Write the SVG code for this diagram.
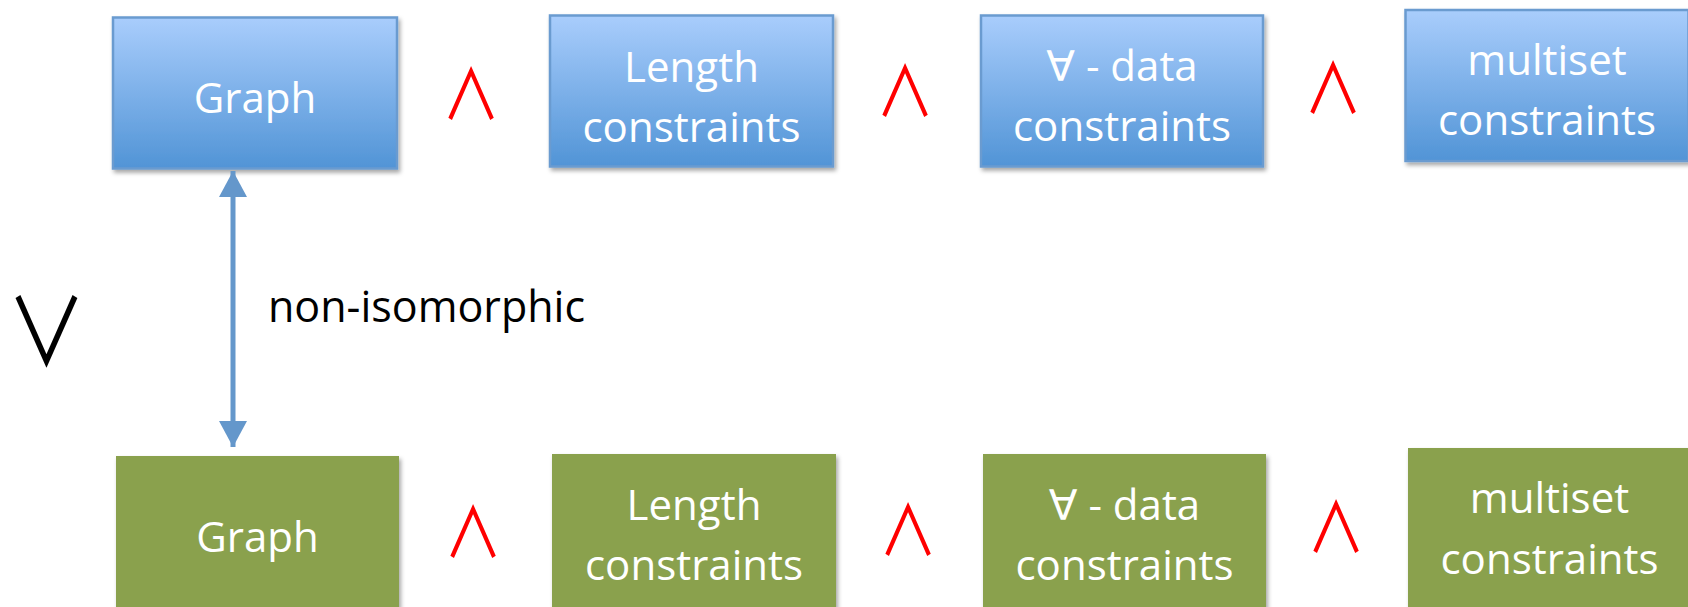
<svg xmlns="http://www.w3.org/2000/svg" width="1688" height="607" viewBox="0 0 1688 607">
  <defs>
    <linearGradient id="blueFill" x1="0" y1="0" x2="0" y2="1">
      <stop offset="0" stop-color="#a9cdfc"/>
      <stop offset="1" stop-color="#5194d6"/>
    </linearGradient>
    <filter id="shadow" x="-10%" y="-10%" width="125%" height="130%">
      <feDropShadow dx="2" dy="3" stdDeviation="2" flood-color="#000" flood-opacity="0.35"/>
    </filter>
    <marker id="arrowHead" viewBox="0 0 26 28" refX="26" refY="14" markerWidth="26" markerHeight="28" markerUnits="userSpaceOnUse" orient="auto-start-reverse">
      <path d="M0,0 L26,14 L0,28 Z" fill="#6497cb"/>
    </marker>
    <style>
      .blue { fill: url(#blueFill); stroke: #6a9bd0; stroke-width: 2.5; filter: url(#shadow); }
      .green { fill: #8aa14d; filter: url(#shadow); }
      .label { font-family: "Open Sans", "DejaVu Sans", sans-serif; font-size: 42px; fill: #ffffff; text-anchor: middle; }
      .op { font-family: "Noto Sans CJK JP", sans-serif; font-weight: 400; font-size: 69px; fill: #ff0000; text-anchor: middle; }
      .or { font-family: "Noto Sans CJK JP", sans-serif; font-weight: 400; font-size: 93px; fill: #000000; text-anchor: middle; }
      .black { font-family: "Open Sans", "DejaVu Sans", sans-serif; font-size: 43px; fill: #000000; }
    </style>
  </defs>

  <!-- upper conjunction (blue) -->
  <g id="g1-graph">
    <rect class="blue" x="113" y="17.5" width="284" height="151"/>
    <text class="label" x="255" y="113">Graph</text>
  </g>
  <g id="g1-length">
    <rect class="blue" x="550" y="15.5" width="283" height="151"/>
    <text class="label" x="691.5" y="82">Length</text>
    <text class="label" x="691.5" y="142">constraints</text>
  </g>
  <g id="g1-data">
    <rect class="blue" x="981" y="15.5" width="282" height="151"/>
    <text class="label" x="1122" y="81">∀ - data</text>
    <text class="label" x="1122" y="141">constraints</text>
  </g>
  <g id="g1-multiset">
    <rect class="blue" x="1405.5" y="10" width="283" height="151"/>
    <text class="label" x="1547" y="75">multiset</text>
    <text class="label" x="1547" y="135">constraints</text>
  </g>

  <!-- lower conjunction (green) -->
  <g id="g2-graph">
    <rect class="green" x="116" y="456" width="283" height="152"/>
    <text class="label" x="257.5" y="552">Graph</text>
  </g>
  <g id="g2-length">
    <rect class="green" x="552" y="454" width="284" height="154"/>
    <text class="label" x="694" y="520">Length</text>
    <text class="label" x="694" y="580">constraints</text>
  </g>
  <g id="g2-data">
    <rect class="green" x="983" y="454" width="283" height="154"/>
    <text class="label" x="1124.5" y="520">∀ - data</text>
    <text class="label" x="1124.5" y="580">constraints</text>
  </g>
  <g id="g2-multiset">
    <rect class="green" x="1408" y="448" width="283" height="160"/>
    <text class="label" x="1549.5" y="513">multiset</text>
    <text class="label" x="1549.5" y="574">constraints</text>
  </g>

  <!-- logical operators -->
  <g id="operators">
    <text class="op" transform="translate(471,120) scale(0.85,1)">∧</text>
    <text class="op" transform="translate(905,117) scale(0.85,1)">∧</text>
    <text class="op" transform="translate(1333,114) scale(0.85,1)">∧</text>
    <text class="op" transform="translate(473,558) scale(0.85,1)">∧</text>
    <text class="op" transform="translate(908,556) scale(0.85,1)">∧</text>
    <text class="op" transform="translate(1336,553) scale(0.85,1)">∧</text>
    <text class="or" transform="translate(46.5,366) scale(0.86,1)">∨</text>
  </g>

  <!-- connector between the two graphs -->
  <g id="connectors">
    <line x1="233" y1="171" x2="233" y2="447" stroke="#6497cb" stroke-width="5" marker-start="url(#arrowHead)" marker-end="url(#arrowHead)"/>
    <text class="black" x="268" y="322">non-isomorphic</text>
  </g>
</svg>
